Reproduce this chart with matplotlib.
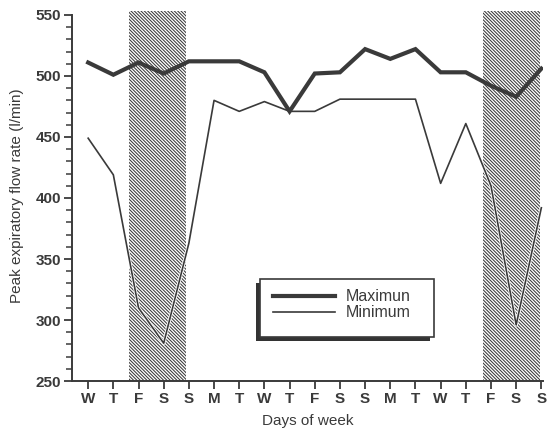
import matplotlib
matplotlib.use('Agg')
import matplotlib.pyplot as plt
from matplotlib.patches import Rectangle
import matplotlib.patheffects as pe

plt.rcParams['font.family'] = ['Liberation Sans', 'DejaVu Sans']
plt.rcParams['hatch.linewidth'] = 0.75
plt.rcParams['hatch.color'] = '#4a4a4a'

INK = '#3a3a3a'

days = ['W', 'T', 'F', 'S', 'S', 'M', 'T', 'W', 'T', 'F',
        'S', 'S', 'M', 'T', 'W', 'T', 'F', 'S', 'S']
pefr_max = [511, 501, 511, 502, 512, 512, 512, 503, 471, 502,
            503, 522, 514, 522, 503, 503, 492, 483, 506]
pefr_min = [449, 419, 310, 281, 363, 480, 471, 479, 471, 471,
            481, 481, 481, 481, 412, 461, 410, 296, 392]
# shaded weekends (start, end) in day index units
weekends = [(1.63, 3.89), (15.69, 17.96)]

fig = plt.figure(figsize=(5.5, 4.34), dpi=100)
ax = fig.add_axes([0.131, 0.122, 0.856, 0.852])

x = list(range(len(days)))

for start, end in weekends:
    ax.axvspan(start, end, ymin=0, ymax=1, facecolor='white',
               edgecolor=INK, hatch='\\' * 10, linewidth=0, zorder=1)

ax.plot(x, pefr_min, color=INK, lw=1.2, zorder=3,
        path_effects=[pe.Stroke(linewidth=2.4, foreground='white'), pe.Normal()],
        label='Minimum')
ax.plot(x, pefr_max, color=INK, lw=3.0, zorder=4, solid_joinstyle='miter',
        label='Maximun')

ax.set_xlim(-0.64, 18.06)
ax.set_ylim(250, 553)
ax.set_xticks(x)
ax.set_xticklabels(days)
ax.set_yticks([250, 300, 350, 400, 450, 500, 550])
ax.set_yticks(range(250, 551, 10), minor=True)

for side in ['top', 'right']:
    ax.spines[side].set_visible(False)
for side in ['left', 'bottom']:
    ax.spines[side].set_linewidth(1.4)
    ax.spines[side].set_color(INK)
ax.spines['left'].set_bounds(250, 550)

ax.tick_params(axis='both', which='major', length=6, width=1.3, color=INK,
               labelcolor=INK, labelsize=11, pad=2)
ax.tick_params(axis='y', which='minor', length=4, width=1.1, color=INK)
for lbl in ax.get_xticklabels() + ax.get_yticklabels():
    lbl.set_fontweight('bold')

ax.set_xlabel('Days of week', fontsize=11, color=INK, labelpad=6)
ax.set_ylabel('Peak expiratory flow rate (l/min)', fontsize=11, color=INK, labelpad=8)

# legend box with a drop shadow to the lower left
box_x0, box_y0, box_w, box_h = 0.399, 0.119, 0.369, 0.157
shadow = Rectangle((box_x0 - 0.0085, box_y0 - 0.011), box_w, box_h,
                   transform=ax.transAxes, facecolor='#333333',
                   edgecolor='none', zorder=5)
frame = Rectangle((box_x0, box_y0), box_w, box_h, transform=ax.transAxes,
                  facecolor='white', edgecolor=INK, linewidth=1.2, zorder=5.5)
ax.add_patch(shadow)
ax.add_patch(frame)

handles, labels = ax.get_legend_handles_labels()
leg = ax.legend(handles[::-1], labels[::-1], loc='upper left',
                bbox_to_anchor=(0.427, 0.248), frameon=False,
                fontsize=11.5, handlelength=3.9, handletextpad=0.65,
                labelspacing=0.05, borderpad=0, borderaxespad=0)
leg.set_zorder(6)
for t in leg.get_texts():
    t.set_color(INK)

fig.savefig('out.png', dpi=100)
